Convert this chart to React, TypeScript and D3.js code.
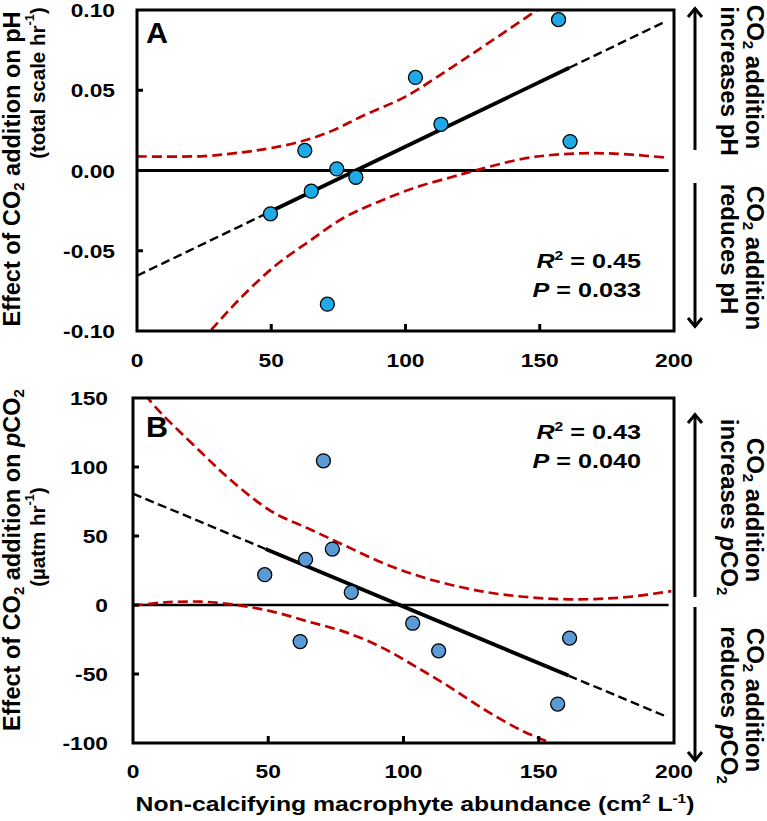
import React from 'react';
import * as d3 from 'd3';

// ---------- data ----------
const xTicks = [0, 50, 100, 150, 200];
const yTicksA = [-0.1, -0.05, 0, 0.05, 0.1];
const yTickLabelsA = ['-0.10', '-0.05', '0.00', '0.05', '0.10'];
const yTicksB = [-100, -50, 0, 50, 100, 150];

// Panel A: effect on pH
const abundanceA = [49.7, 62.5, 64.9, 74.4, 81.5, 70.9, 103.7, 113.2, 157, 161.3];
const phEffect = [-0.027, 0.0125, -0.0129, 0.001, -0.0042, -0.0833, 0.058, 0.0288, 0.094, 0.018];

// Panel B: effect on pCO2
const abundanceB = [48.7, 63.8, 70.4, 73.7, 80.7, 61.8, 103.4, 113, 157, 161.4];
const pco2Effect = [22, 33, 104.5, 40.5, 9.2, -26.5, -13.2, -33.2, -71.8, -24];

// regression lines [intercept, slope], solid over data range, dashed extension
const fitA = [-0.0656, 0.000805];
const fitB = [80.7, -0.819];
const solidRangeA = [49.7, 161];
const solidRangeB = [49, 161];
const fullRange = [0, 197];

// confidence bands
const upperA: [number, number][] = [[0, 0.0088], [25, 0.009], [40, 0.0115], [50, 0.014], [62, 0.0185], [73, 0.025], [84, 0.034], [100, 0.046], [117, 0.064], [130.5, 0.079], [149, 0.1], [156, 0.108]];
const lowerA: [number, number][] = [[20, -0.113], [27.8, -0.099], [37.7, -0.081], [51, -0.06], [64.2, -0.044], [77.5, -0.029], [90.7, -0.019], [104, -0.0104], [117, -0.0042], [126, 0], [143.7, 0.0073], [157, 0.01], [170, 0.0108], [183, 0.01], [198, 0.0079]];
const upperB: [number, number][] = [[2, 162], [6, 148.8], [25.1, 110.8], [38.4, 86.7], [51.6, 67.4], [64.8, 55.4], [78, 43.4], [91.3, 31.3], [104.5, 21.7], [117.7, 14.5], [131, 9.2], [144.2, 6], [157.4, 4.3], [170.6, 4.3], [183.9, 6], [199, 10.1]];
const lowerB: [number, number][] = [[0, -0.5], [11.9, 1.9], [25.1, 2.4], [38.4, 0], [51.6, -4.8], [64.8, -12], [78, -19.3], [91.3, -30.1], [104.5, -44.6], [117.7, -60.2], [131, -77.1], [144.2, -91.5], [155.4, -101.2], [160, -108]];

// ---------- layout ----------
const W = 767, H = 821;
const pA = { left: 137, right: 674, top: 10, bottom: 331 };
const pB = { left: 133, right: 674, top: 398, bottom: 743 };
const FONT = '"Liberation Sans", Arial, sans-serif';
const RED = '#c00000';
const BLUE_A = '#1eaae6';
const BLUE_B = '#5b9bd5';
const SX = 1.2; // horizontal stretch of horizontal text in the reference

function Arrow({ x, y1, y2 }: { x: number; y1: number; y2: number }) {
  const dir = y2 < y1 ? 1 : -1; // tip at y2
  return (
    <g stroke="#000" strokeWidth={3} fill="none" strokeLinecap="butt">
      <line x1={x} y1={y1} x2={x} y2={y2 + dir * 1} />
      <polyline points={`${x - 7},${y2 + dir * 10} ${x},${y2 + dir * 1.5} ${x + 7},${y2 + dir * 10}`} strokeLinejoin="miter" />
    </g>
  );
}

function HText({ x, y, anchor, size, children, sx = SX }: any) {
  return (
    <g transform={`translate(${x},${y}) scale(${sx},1)`}>
      <text x={0} y={0} textAnchor={anchor} fontSize={size} fontWeight="bold" fontFamily={FONT}>{children}</text>
    </g>
  );
}

function Panel({ p, yDomain, yTicks, yLabels, xs, ys, fit, solid, upper, lower, color, id, labelEnd, xLabelY, zeroW }: any) {
  const x = d3.scaleLinear().domain([0, 200]).range([p.left, p.right]);
  const y = d3.scaleLinear().domain(yDomain).range([p.bottom, p.top]);
  const band = d3.line<[number, number]>().x(d => x(d[0])).y(d => y(d[1])).curve(d3.curveCatmullRom.alpha(0.5));
  const fy = (v: number) => fit[0] + fit[1] * v;
  const seg = (a: number, b: number) => d3.line<number>().x(v => x(v)).y(v => y(fy(v)))([a, b]) as string;
  return (
    <g>
      <defs>
        <clipPath id={id}>
          <rect x={p.left} y={p.top} width={p.right - p.left} height={p.bottom - p.top} />
        </clipPath>
      </defs>
      <g clipPath={`url(#${id})`}>
        <line x1={x(0)} x2={x(198)} y1={y(0)} y2={y(0)} stroke="#000" strokeWidth={zeroW} />
        <path d={band(upper) as string} fill="none" stroke={RED} strokeWidth={2.7} strokeDasharray="10,5" />
        <path d={band(lower) as string} fill="none" stroke={RED} strokeWidth={2.7} strokeDasharray="10,5" />
        <path d={seg(fullRange[0], solid[0])} fill="none" stroke="#000" strokeWidth={2.4} strokeDasharray="9,4.5" />
        <path d={seg(solid[1], fullRange[1])} fill="none" stroke="#000" strokeWidth={2.4} strokeDasharray="9,4.5" />
        <path d={seg(solid[0], solid[1])} fill="none" stroke="#000" strokeWidth={3.8} />
        {xs.map((v: number, i: number) => (
          <circle key={i} cx={x(v)} cy={y(ys[i])} r={7} fill={color} stroke="#000" strokeWidth={1.3} />
        ))}
      </g>
      <rect x={p.left} y={p.top} width={p.right - p.left} height={p.bottom - p.top} fill="none" stroke="#000" strokeWidth={3} />
      {yTicks.slice(1, -1).map((t: number) => (
        <line key={t} x1={p.left} x2={p.left + 6} y1={y(t)} y2={y(t)} stroke="#000" strokeWidth={3} />
      ))}
      {xTicks.slice(1, -1).map((t: number) => (
        <line key={t} x1={x(t)} x2={x(t)} y1={p.bottom} y2={p.bottom - 7} stroke="#000" strokeWidth={3} />
      ))}
      {yTicks.map((t: number, i: number) => (
        <HText key={t} x={labelEnd} y={y(t) + 7} anchor="end" size={19}>
          {yLabels ? yLabels[i] : String(t)}
        </HText>
      ))}
      {xTicks.map((t: number) => (
        <HText key={t} x={x(t)} y={xLabelY} anchor="middle" size={19}>{t}</HText>
      ))}
    </g>
  );
}

function SideNote({ line1cy, line2cy, line1x, line2x, second }: any) {
  return (
    <g fontFamily={FONT} fontWeight="bold" fontSize={24}>
      <text transform={`translate(${line1x},${line1cy}) rotate(90)`} textAnchor="middle" dominantBaseline="central">
        CO<tspan dy={6} fontSize={15}>2</tspan><tspan dy={-6}> addition</tspan>
      </text>
      <text transform={`translate(${line2x},${line2cy}) rotate(90)`} textAnchor="middle" dominantBaseline="central">
        {second}
      </text>
    </g>
  );
}

export default function App() {
  return (
    <svg width={W} height={H} viewBox={`0 0 ${W} ${H}`} style={{ position: 'absolute', left: 0, top: 0, background: '#fff' }}>
      <rect width={W} height={H} fill="#fff" />
      <Panel p={pA} yDomain={[-0.1, 0.1]} yTicks={yTicksA} yLabels={yTickLabelsA} xs={abundanceA} ys={phEffect}
        fit={fitA} solid={solidRangeA} upper={upperA} lower={lowerA} color={BLUE_A} id="clipA" labelEnd={115} xLabelY={367} zeroW={3} />
      <Panel p={pB} yDomain={[-100, 150]} yTicks={yTicksB} xs={abundanceB} ys={pco2Effect}
        fit={fitB} solid={solidRangeB} upper={upperB} lower={lowerB} color={BLUE_B} id="clipB" labelEnd={108} xLabelY={778} zeroW={2.5} />

      {/* panel letters */}
      <HText x={146} y={43} anchor="start" size={29} sx={1.05}>A</HText>
      <HText x={146} y={437} anchor="start" size={29} sx={1.05}>B</HText>

      {/* statistics */}
      <HText x={641} y={268} anchor="end" size={21}><tspan fontStyle="italic">R</tspan><tspan dy={-8} fontSize={13}>2</tspan><tspan dy={8}> = 0.45</tspan></HText>
      <HText x={641} y={297} anchor="end" size={21}><tspan fontStyle="italic">P</tspan> = 0.033</HText>
      <HText x={641} y={439} anchor="end" size={21}><tspan fontStyle="italic">R</tspan><tspan dy={-8} fontSize={13}>2</tspan><tspan dy={8}> = 0.43</tspan></HText>
      <HText x={641} y={468} anchor="end" size={21}><tspan fontStyle="italic">P</tspan> = 0.040</HText>

      {/* y axis titles */}
      <g fontFamily={FONT} fontWeight="bold">
        <text transform="translate(12,169) rotate(-90)" textAnchor="middle" dominantBaseline="central" fontSize={23.5}>
          Effect of CO<tspan dy={6} fontSize={15}>2</tspan><tspan dy={-6}> addition on pH</tspan>
        </text>
        <text transform="translate(37,83) rotate(-90)" textAnchor="middle" dominantBaseline="central" fontSize={20.5}>
          (total scale hr<tspan dy={-8} fontSize={13}>-1</tspan><tspan dy={8}>)</tspan>
        </text>
        <text transform="translate(12,560) rotate(-90)" textAnchor="middle" dominantBaseline="central" fontSize={23.5}>
          Effect of CO<tspan dy={6} fontSize={15}>2</tspan><tspan dy={-6}> addition on </tspan><tspan fontStyle="italic">p</tspan>CO<tspan dy={6} fontSize={15}>2</tspan>
        </text>
        <text transform="translate(37,537) rotate(-90)" textAnchor="middle" dominantBaseline="central" fontSize={20.5}>
          (µatm hr<tspan dy={-8} fontSize={13}>-1</tspan><tspan dy={8}>)</tspan>
        </text>
      </g>

      {/* x axis title */}
      <HText x={415} y={811} anchor="middle" size={21} sx={1.18}>
        Non-calcifying macrophyte abundance (cm<tspan dy={-8} fontSize={13}>2</tspan><tspan dy={8}> L</tspan><tspan dy={-8} fontSize={13}>-1</tspan><tspan dy={8}>)</tspan>
      </HText>

      {/* right-hand annotations */}
      <Arrow x={695} y1={150} y2={7} />
      <Arrow x={695} y1={183} y2={328} />
      <SideNote line1x={755} line2x={729} line1cy={77} line2cy={81} second="increases pH" />
      <SideNote line1x={755} line2x={729} line1cy={258} line2cy={249} second="reduces pH" />

      <Arrow x={695} y1={597} y2={413} />
      <Arrow x={695} y1={607} y2={762} />
      <SideNote line1x={755} line2x={729} line1cy={510} line2cy={507}
        second={<>increases <tspan fontStyle="italic">p</tspan>CO<tspan dy={6} fontSize={15}>2</tspan></>} />
      <SideNote line1x={755} line2x={729} line1cy={700} line2cy={705}
        second={<>reduces <tspan fontStyle="italic">p</tspan>CO<tspan dy={6} fontSize={15}>2</tspan></>} />
    </svg>
  );
}
